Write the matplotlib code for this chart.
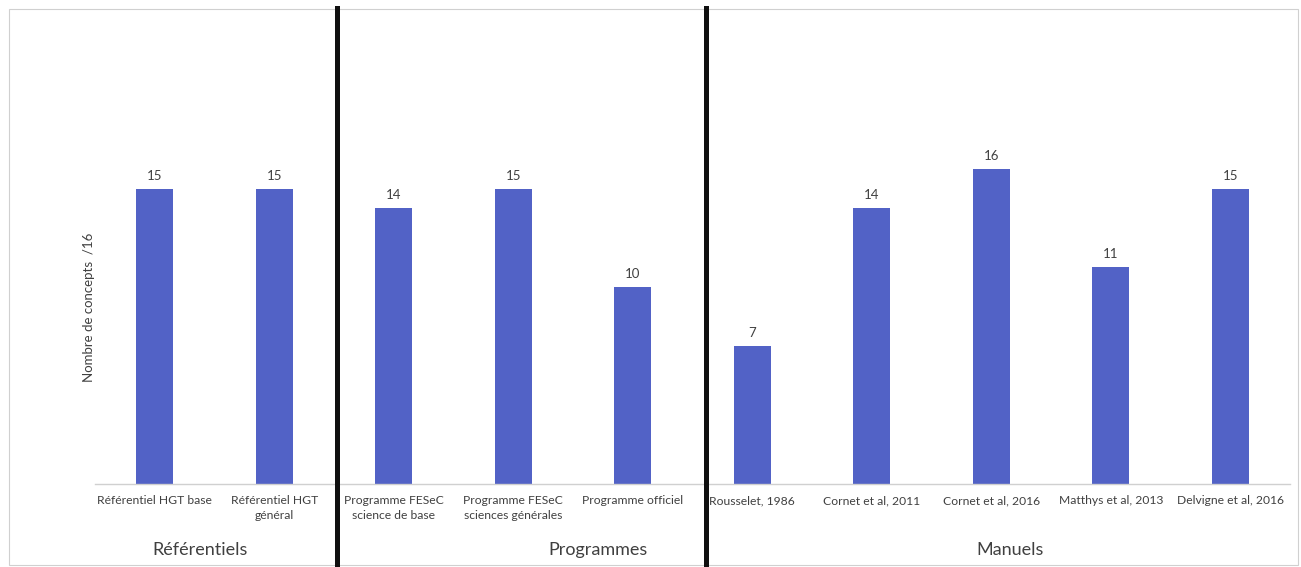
import matplotlib
matplotlib.use("Agg")
import matplotlib.pyplot as plt
from matplotlib.lines import Line2D
from matplotlib.patches import Rectangle

plt.rcParams['font.family'] = ['Lato', 'DejaVu Sans']

# concepts couverts par document
documents = ["Référentiel HGT base", "Référentiel HGT\ngénéral",
             "Programme FESeC\nscience de base", "Programme FESeC\nsciences générales",
             "Programme officiel",
             "Rousselet, 1986", "Cornet et al, 2011", "Cornet et al, 2016",
             "Matthys et al, 2013", "Delvigne et al, 2016"]
nb_concepts = [15, 15, 14, 15, 10, 7, 14, 16, 11, 15]

groupes = ["Référentiels", "Programmes", "Manuels"]
groupes_x = [200, 598, 1010]       # centre du titre de groupe (px)
separations_x = [337, 706]         # traits noirs entre groupes (px)

W, H = 1301, 567
fig = plt.figure(figsize=(W / 100, H / 100), dpi=100)
fig.patch.set_facecolor("white")

# cadre gris autour du graphique
fig.add_artist(Rectangle((9 / W, 2 / H), 1289 / W, 556 / H, transform=fig.transFigure,
                         fill=False, edgecolor="#d0d0d0", linewidth=0.8))

ymax = 24
ax = fig.add_axes([95 / W, (H - 484) / H, 1195 / W, ymax * 19.7 / H])
x = range(len(documents))
bars = ax.bar(x, nb_concepts, width=0.31, color="#5262c6")
ax.set_xlim(-0.5, len(documents) - 0.5)
ax.set_ylim(0, ymax)

for b, v in zip(bars, nb_concepts):
    ax.annotate(str(v), (b.get_x() + b.get_width() / 2, v), xytext=(0, 5),
                textcoords="offset points", ha="center", va="bottom",
                fontsize=9.5, color="#404040")

ax.set_xticks(list(x))
ax.set_xticklabels(documents, fontsize=8.7, color="#404040", linespacing=1.45)
ax.tick_params(axis="x", length=0, pad=8)
ax.set_yticks([])
for s in ["top", "right", "left"]:
    ax.spines[s].set_visible(False)
ax.spines["bottom"].set_color("#d0d0d0")
ax.spines["bottom"].set_linewidth(1)

fig.text(89 / W, 1 - 307 / H, "Nombre de concepts  /16", rotation=90,
         ha="center", va="center", fontsize=9.5, color="#404040")

for nom, gx in zip(groupes, groupes_x):
    fig.text(gx / W, 1 - 550 / H, nom, ha="center", va="center",
             fontsize=13, color="#404040")

for sx in separations_x:
    fig.add_artist(Line2D([sx / W, sx / W], [0, 1 - 8 / H], transform=fig.transFigure,
                          color="#101010", linewidth=3.6))

fig.savefig("out.png", dpi=100)
